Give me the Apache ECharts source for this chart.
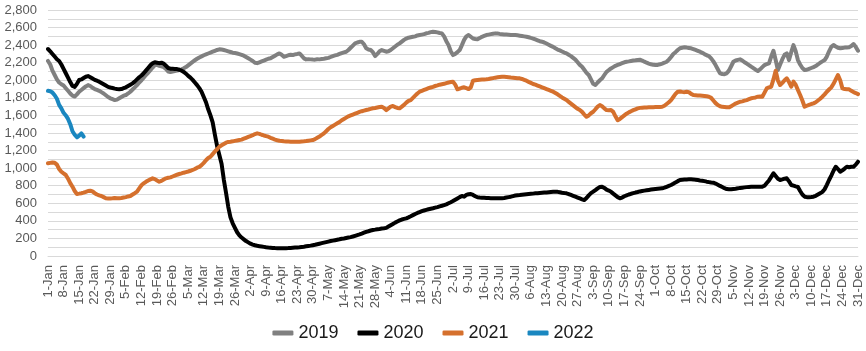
<!DOCTYPE html>
<html>
<head>
<meta charset="utf-8">
<script src="https://cdn.jsdelivr.net/npm/echarts@6/dist/echarts.min.js"></script>
<style>
html,body{margin:0;padding:0;background:#fff;}
#chart{width:866px;height:351px;}
</style>
</head>
<body>
<div id="chart"></div>
<script>
// Tick-label building blocks
var monthNames = ['Jan','Feb','Mar','Apr','May','Jun','Jul','Aug','Sep','Oct','Nov','Dec'];
var monthDays = [31,28,31,30,31,30,31,31,30,31,30,31];
var seriesNames = ['2019','2020','2021','2022'];

var values2019 = [
2220,2180,2110,2060,2010,1975,1955,
1940,1910,1880,1850,1825,1815,1840,
1870,1890,1910,1930,1945,1935,1915,
1900,1890,1880,1865,1850,1830,1810,
1795,1785,1775,1780,1795,1810,1825,
1832,1850,1870,1895,1920,1945,1975,
2000,2030,2060,2085,2115,2145,2173,
2175,2165,2158,2150,2130,2100,2095,
2100,2105,2110,2117,2125,2136,2150,
2170,2190,2210,2228,2245,2260,2272,
2285,2295,2305,2315,2325,2335,2345,
2352,2350,2345,2338,2330,2322,2314,
2310,2305,2298,2290,2280,2265,2250,
2235,2220,2200,2195,2205,2215,2225,
2235,2245,2250,2265,2280,2295,2306,
2290,2268,2275,2285,2290,2287,2295,
2300,2306,2280,2250,2238,2240,2238,
2236,2235,2240,2238,2242,2245,2250,
2255,2265,2275,2283,2290,2300,2310,
2318,2325,2345,2370,2395,2420,2430,
2438,2439,2410,2364,2350,2344,2320,
2275,2300,2330,2344,2335,2325,2330,
2345,2365,2385,2405,2420,2440,2460,
2475,2485,2490,2495,2500,2510,2515,
2520,2525,2535,2540,2548,2553,2550,
2545,2538,2534,2500,2445,2400,2330,
2287,2300,2320,2344,2400,2460,2500,
2515,2495,2475,2470,2466,2480,2495,
2505,2515,2520,2525,2530,2534,2532,
2528,2525,2522,2520,2518,2516,2515,
2515,2512,2508,2504,2500,2496,2490,
2482,2475,2465,2455,2445,2439,2430,
2418,2405,2392,2380,2364,2350,2340,
2328,2316,2306,2290,2275,2255,2235,
2205,2175,2154,2120,2085,2060,2010,
1960,1946,1975,2000,2022,2060,2097,
2115,2135,2150,2165,2175,2185,2195,
2205,2211,2215,2220,2225,2228,2232,
2234,2225,2212,2200,2190,2182,2176,
2173,2175,2182,2190,2200,2211,2235,
2265,2299,2320,2345,2365,2371,2375,
2372,2368,2364,2355,2345,2335,2325,
2312,2298,2285,2276,2250,2215,2173,
2125,2079,2072,2070,2079,2110,2160,
2211,2225,2232,2238,2225,2205,2190,
2173,2155,2138,2120,2105,2125,2150,
2173,2185,2193,2270,2336,2230,2117,
2180,2240,2290,2306,2230,2320,2401,
2330,2230,2180,2140,2117,2120,2130,
2140,2150,2162,2180,2200,2215,2230,
2270,2330,2380,2401,2385,2370,2364,
2368,2372,2374,2376,2390,2413,2380,
2336
];

var values2020 = [
2356,2330,2300,2270,2240,2220,2180,
2130,2080,2030,1980,1935,1925,1960,
2003,2010,2025,2040,2048,2035,2020,
2005,1995,1984,1970,1955,1940,1925,
1918,1912,1905,1900,1897,1900,1910,
1920,1935,1950,1965,1985,2010,2035,
2055,2080,2110,2140,2170,2193,2205,
2200,2195,2200,2190,2165,2140,2132,
2130,2128,2128,2120,2110,2095,2075,
2050,2030,2005,1975,1945,1910,1870,
1810,1750,1670,1600,1520,1380,1250,
1150,1050,870,720,560,440,372,
320,270,235,210,190,170,155,
140,130,122,116,112,108,104,
100,97,95,92,90,89,88,
88,88,89,90,92,94,96,
98,100,103,106,110,114,118,
123,128,134,140,146,152,158,
164,170,175,180,185,190,196,
200,205,210,215,222,230,238,
246,255,265,275,282,290,296,
300,305,308,312,315,320,335,
350,365,380,393,405,415,422,
429,440,452,465,478,490,500,
510,518,525,532,538,543,550,
557,565,572,580,588,600,612,
625,640,655,670,683,675,695,
703,706,695,680,668,665,663,
662,660,659,658,657,657,657,
657,657,660,665,670,675,682,
688,692,694,697,700,703,706,
708,710,713,715,718,720,722,
724,726,728,730,732,730,725,
720,716,713,705,695,685,675,
665,655,645,637,660,690,715,
732,750,770,785,789,775,755,
745,732,710,690,670,657,665,
680,690,700,708,715,722,728,
735,740,744,748,752,756,760,
763,766,768,770,778,788,798,
808,822,838,852,865,868,870,
872,873,873,872,868,864,860,
857,852,846,841,836,834,825,
812,798,785,772,762,759,760,
763,766,770,775,778,781,784,
786,788,789,789,789,789,789,
800,830,860,900,941,910,880,
865,872,880,884,850,808,800,
792,785,740,700,675,670,670,
672,675,685,700,715,730,760,
810,865,915,970,1016,990,959,
975,995,1016,1010,1015,1016,1040,
1073
];

var values2021 = [
1055,1060,1065,1062,1040,990,959,
940,922,880,830,789,740,706,
710,715,721,730,740,743,735,
715,700,690,683,670,657,655,
655,657,660,658,657,660,665,
670,678,683,700,715,732,770,
805,827,845,860,872,884,875,
860,846,855,870,884,890,895,
905,915,925,933,940,948,955,
962,970,979,990,1005,1015,1035,
1060,1090,1115,1130,1160,1190,1215,
1244,1260,1275,1290,1298,1301,1305,
1310,1315,1320,1325,1335,1345,1355,
1365,1375,1388,1396,1390,1380,1372,
1365,1358,1345,1335,1325,1318,1312,
1309,1305,1303,1302,1301,1300,1300,
1300,1301,1303,1305,1308,1312,1316,
1320,1330,1345,1360,1378,1396,1420,
1445,1465,1480,1495,1510,1525,1545,
1560,1575,1590,1600,1610,1620,1630,
1640,1648,1655,1662,1668,1675,1681,
1685,1690,1695,1699,1685,1661,1680,
1700,1707,1695,1685,1681,1700,1720,
1745,1765,1775,1800,1825,1850,1870,
1880,1890,1900,1910,1918,1926,1935,
1942,1950,1955,1960,1968,1975,1980,
1984,1950,1897,1905,1915,1920,1910,
1900,1920,1995,2000,2003,2006,2008,
2010,2011,2015,2020,2025,2030,2034,
2037,2040,2040,2038,2035,2032,2030,
2027,2024,2022,2015,2005,1995,1982,
1970,1958,1950,1940,1930,1920,1910,
1900,1890,1880,1870,1855,1840,1822,
1805,1790,1775,1755,1735,1715,1695,
1675,1661,1640,1610,1585,1600,1625,
1642,1670,1700,1718,1705,1680,1661,
1660,1661,1640,1590,1545,1560,1580,
1600,1620,1635,1648,1660,1670,1680,
1686,1688,1690,1691,1692,1693,1694,
1695,1696,1697,1699,1710,1730,1750,
1775,1810,1845,1870,1872,1868,1865,
1870,1865,1845,1832,1830,1828,1826,
1824,1822,1818,1813,1800,1770,1740,
1718,1705,1698,1695,1692,1692,1705,
1720,1735,1745,1756,1760,1768,1775,
1785,1795,1800,1805,1813,1815,1813,
1860,1908,1920,1927,2010,2109,2000,
1946,1970,2000,2022,1980,1927,1984,
1950,1890,1832,1770,1699,1710,1720,
1730,1737,1750,1770,1790,1813,1840,
1870,1895,1920,1960,2010,2060,2000,
1908,1900,1898,1897,1880,1865,1855,
1843
];

var values2022 = [1880,1875,1860,1830,1790,1720,1680,1630,1600,1560,1500,1420,1380,1351,1370,1396,1358];

// build day labels (1-Jan ... 31-Dec)
var categories = [];
for (var m = 0; m < 12; m++) {
  for (var d = 1; d <= monthDays[m]; d++) categories.push(d + '-' + monthNames[m]);
}

var colors = ['#808080', '#000000', '#D5702D', '#1A87C0'];
var allValues = [values2019, values2020, values2021, values2022];

var chart = echarts.init(document.getElementById('chart'), null, {renderer: 'canvas'});
var font = 'Liberation Sans, Arial, sans-serif';
chart.setOption({
  animation: false,
  backgroundColor: '#ffffff',
  color: colors,
  grid: {left: 48, right: 8, top: 10, bottom: 95, containLabel: false},
  legend: {
    bottom: 4,
    left: 'center',
    itemWidth: 21,
    itemHeight: 5,
    itemGap: 19,
    icon: 'roundRect',
    textStyle: {fontSize: 18, color: '#1a1a1a', fontFamily: font},
    data: seriesNames
  },
  xAxis: {
    type: 'category',
    boundaryGap: false,
    data: categories,
    axisLine: {show: true, lineStyle: {color: '#d9d9d9', width: 1}},
    axisTick: {show: false},
    axisLabel: {
      interval: 6,
      rotate: 90,
      fontSize: 13,
      color: '#595959',
      fontFamily: font,
      margin: 9
    },
    splitLine: {show: false}
  },
  yAxis: {
    type: 'value',
    min: 0,
    max: 2800,
    interval: 100,
    axisLine: {show: false},
    axisTick: {show: false},
    axisLabel: {
      fontSize: 13,
      color: '#595959',
      fontFamily: font,
      margin: 11,
      formatter: function (v) {
        if (v % 200 !== 0) return '';
        return v.toLocaleString('en-US');
      }
    },
    splitLine: {show: true, lineStyle: {color: '#d9d9d9', width: 1}}
  },
  series: seriesNames.map(function (name, i) {
    return {
      name: name,
      type: 'line',
      data: allValues[i],
      symbol: 'none',
      smooth: false,
      lineStyle: {width: 4, color: colors[i], cap: 'round', join: 'round'},
      itemStyle: {color: colors[i]}
    };
  })
});
</script>
</body>
</html>
